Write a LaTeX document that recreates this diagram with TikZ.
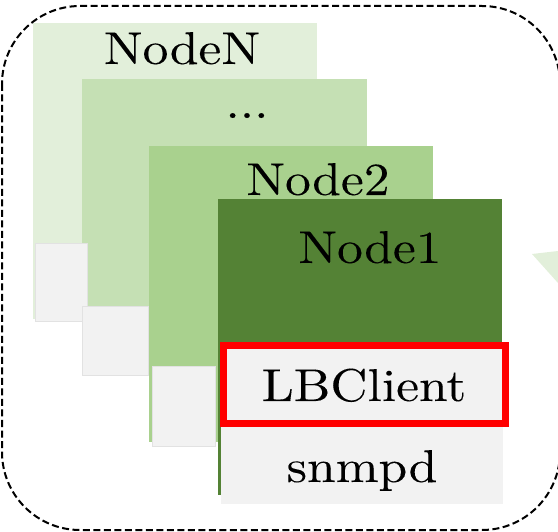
\documentclass[tikz,border=0pt]{standalone}
\usepackage{fontspec}
\setmainfont{lmroman10-regular.otf}[FakeBold=0.12, FakeStretch=1.12]
\definecolor{greenN}{HTML}{E2EFDA}
\definecolor{greenM}{HTML}{C5E0B4}
\definecolor{greenTwo}{HTML}{A9D18E}
\definecolor{greenOne}{HTML}{548235}
\definecolor{lightgray}{HTML}{F2F2F2}
\definecolor{grayedge}{HTML}{E2E2E2}
\definecolor{hlred}{HTML}{FF0000}
\tikzset{
  layer/.style={rectangle, anchor=north west, inner sep=0pt, outer sep=0pt},
  tab/.style={rectangle, anchor=north west, inner sep=0pt, outer sep=0pt,
    fill=lightgray, draw=grayedge, line width=1.5pt},
  lbl/.style={anchor=base, inner sep=0pt, font=\fontsize{46}{52}\selectfont},
}
\begin{document}
\begin{tikzpicture}[x=1pt, y=-1pt]
  \useasboundingbox (0,0) rectangle (558,532);

  % stacked node layers, back to front
  \node[layer, fill=greenN, minimum width=284pt, minimum height=296pt] (layerN) at (33,23) {};
  \node[layer, fill=greenM, minimum width=285pt, minimum height=296pt] (layerM) at (82,79) {};
  \node[layer, fill=greenTwo, minimum width=284pt, minimum height=296pt] (layer2) at (149,146) {};
  \node[layer, fill=greenOne, minimum width=284pt, minimum height=296pt] (layer1) at (218,199) {};

  % small grey tabs at the foot of the back layers
  \node[tab, minimum width=52pt, minimum height=78pt] (tabN) at (35.5,243.5) {};
  \node[tab, minimum width=66pt, minimum height=69pt] (tabM) at (82.5,306.5) {};
  \node[tab, minimum width=63pt, minimum height=80pt] (tab2) at (152.5,366.5) {};

  % process boxes in the front layer
  \node[layer, fill=lightgray, minimum width=282pt, minimum height=77pt] (snmpd) at (221,427) {};
  \node[layer, fill=lightgray, draw=hlred, line width=7pt, minimum width=282pt, minimum height=78pt] (lbclient) at (223.5,345.5) {};

  % labels
  \node[lbl] (tN) at (182,64) {NodeN};
  \node[lbl] (tM) at (247,118) {...};
  \node[lbl] (t2) at (318,195) {Node2};
  \node[lbl] (t1) at (370,263) {Node1};
  \node[lbl] (tlb) at (364,401) {LBClient};
  \node[lbl] (tsn) at (362,482) {snmpd};

  % edge of a neighbouring shape
  \fill[greenN] (532,254) -- (558,251) -- (558,283) -- cycle;

  % dashed host outline
  \draw[line width=2pt, dash pattern=on 7pt off 3.5pt, rounded corners=78pt]
    (2,6) rectangle (560,530);
\end{tikzpicture}
\end{document}
